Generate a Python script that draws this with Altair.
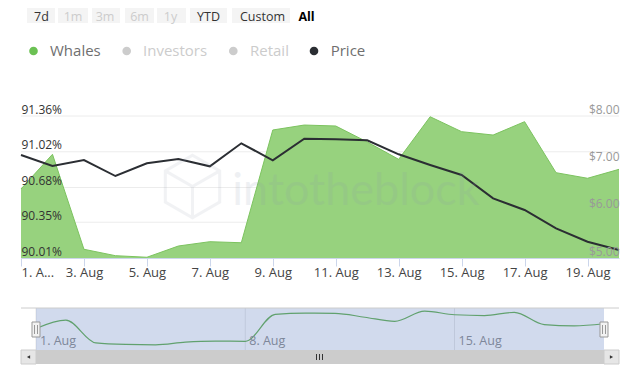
import altair as alt
import pandas as pd

# ---------------- data ----------------
days = list(range(1, 21))  # August 1 .. 20
whales = [90.666, 90.996, 90.093, 90.032, 90.017, 90.124, 90.165, 90.155, 91.227, 91.274,
          91.265, 91.113, 90.948, 91.353, 91.211, 91.179, 91.306, 90.821, 90.768, 90.853]
price = [7.176, 6.944, 7.070, 6.732, 7.001, 7.092, 6.937, 7.423, 7.064, 7.520,
         7.508, 7.487, 7.191, 6.965, 6.754, 6.261, 6.014, 5.627, 5.344, 5.169]
left_ticks = [90.01, 90.35, 90.68, 91.02, 91.36]
right_ticks = [5, 6, 7, 8]
x_ticks = [1, 3, 5, 7, 9, 11, 13, 15, 17, 19]
legend_labels = ["Whales", "Investors", "Retail", "Price"]
button_labels = ["7d", "1m", "3m", "6m", "1y", "YTD", "Custom", "All"]
nav_tick_days = [1, 8, 15]
nav_tick_labels = ["1. Aug", "8. Aug", "15. Aug"]

# ---------------- layout / style ----------------
W, H = 598, 142
FONT = "Open Sans"
GREEN = "#6bc153"
AREA_FILL = "#97d27e"
DARK = "#2b2e33"
Y_MIN, Y_MAX = 90.01, 91.36

legend_dot_x = [12.5, 105.7, 212.3, 293]
legend_text_x = [29, 122, 229, 309.7]
legend_dot_color = [GREEN, "#cccccc", "#cccccc", DARK]
legend_text_color = ["#6f6f6f", "#cccccc", "#cccccc", "#6f6f6f"]

button_cx = [20.5, 52, 84, 118.5, 149.5, 187.5, 241.5, 285.5]
button_x1 = [6, 37, 71, 104, 136, 169, 211, None]
button_x2 = [34, 67, 99, 133, 165, 206, 269, None]
button_color = ["#333333", "#cccccc", "#cccccc", "#cccccc", "#cccccc", "#333333", "#333333", "#000000"]
button_weight = ["normal"] * 7 + ["bold"]

one = pd.DataFrame({"k": [0]})
df = pd.DataFrame({"day": days, "whales": whales, "price": price})
base = alt.Chart(df)

x_main = alt.Scale(domain=[1, 20], nice=False, zero=False)
y_left = alt.Scale(domain=[Y_MIN, Y_MAX], nice=False, zero=False)
y_right = alt.Scale(domain=[5, 8], nice=False, zero=False)

layers = []

# gridlines
layers.append(
    alt.Chart(pd.DataFrame({"v": left_ticks})).mark_rule(color="#ececec", strokeWidth=1).encode(
        y=alt.Y("v:Q", scale=y_left, axis=None)
    )
)

# whales area
layers.append(
    base.transform_calculate(floor=str(Y_MIN)).mark_area(
        color=AREA_FILL, opacity=1, fillOpacity=1,
        line={"color": "#7cc35f", "strokeWidth": 1}).encode(
        x=alt.X("day:Q", scale=x_main, title=None,
                axis=alt.Axis(values=x_ticks,
                              labelExpr="datum.value == 1 ? '1. A...' : datum.value + '. Aug'",
                              grid=False, domainColor="#ccd6eb", tickColor="#ccd6eb", tickSize=8,
                              labelPadding=0, labelFont=FONT, labelFontSize=13, labelColor="#444444",
                              labelFlush=True, labelOverlap=False, zindex=1)),
        y=alt.Y("whales:Q", scale=y_left, title=None,
                axis=alt.Axis(values=left_ticks, labelExpr="format(datum.value, '.2f') + '%'",
                              orient="left", domain=False, ticks=False, tickSize=0, grid=False,
                              labelAlign="left", labelBaseline="bottom", labelPadding=0,
                              labelFont=FONT, labelFontSize=12, labelColor="#333333",
                              labelFlush=False, labelOverlap=False, labelBound=False, zindex=1)),
        y2=alt.Y2("floor:Q"),
    )
)

# price line
layers.append(
    base.mark_line(color=DARK, strokeWidth=2).encode(
        x=alt.X("day:Q", scale=x_main, axis=None),
        y=alt.Y("price:Q", scale=y_right, title=None,
                axis=alt.Axis(values=right_ticks, format="$.2f", orient="right", domain=False,
                              ticks=False, tickSize=0, grid=False, labelAlign="right",
                              labelBaseline="bottom", labelPadding=0, labelFont=FONT,
                              labelFontSize=12, labelColor="#999999", labelFlush=False,
                              labelOverlap=False, labelBound=False, zindex=1)),
    )
)

# watermark
layers.append(
    alt.Chart(one).mark_text(text="intotheblock", font="Lato", fontSize=45, align="center",
                             baseline="alphabetic", color="#8f99ad", opacity=0.14).encode(
        x=alt.value(335), y=alt.value(89)
    )
)
layers.append(
    alt.Chart(one).mark_point(
        shape="M0,-1L0.87,-0.5L0.87,0.5L0,1L-0.87,0.5L-0.87,-0.5Z M0,0L0.87,-0.5 M0,0L-0.87,-0.5 M0,0L0,1",
        size=3900, filled=False, color="#8f99ad", strokeWidth=3, opacity=0.12).encode(
        x=alt.value(171.5), y=alt.value(70.5)
    )
)

# legend
leg_df = pd.DataFrame({"label": legend_labels, "dx": legend_dot_x, "tx": legend_text_x,
                       "dc": legend_dot_color, "tc": legend_text_color})
layers.append(
    alt.Chart(leg_df).mark_circle(size=75, opacity=1).encode(
        x=alt.X("dx:Q", scale=None, axis=None), y=alt.value(-65),
        color=alt.Color("dc:N", scale=None)
    )
)
layers.append(
    alt.Chart(leg_df).mark_text(align="left", baseline="middle", font=FONT, fontSize=15).encode(
        x=alt.X("tx:Q", scale=None, axis=None), y=alt.value(-65),
        text="label:N", color=alt.Color("tc:N", scale=None)
    )
)

# range selector buttons
for x1, x2 in zip(button_x1, button_x2):
    if x1 is None:
        continue
    layers.append(
        alt.Chart(one).mark_rect(color="#f4f4f4").encode(
            x=alt.value(x1), x2=alt.value(x2), y=alt.value(-108), y2=alt.value(-93)
        )
    )
for lab, cx, col, wt in zip(button_labels, button_cx, button_color, button_weight):
    layers.append(
        alt.Chart(one).mark_text(text=lab, align="center", baseline="middle", font=FONT,
                                 fontSize=12.5, color=col, fontWeight=wt).encode(
            x=alt.value(cx), y=alt.value(-99)
        )
    )

# navigator
nav_x = alt.Scale(domain=[1, 20], range=[15, 583], nice=False, zero=False)
nav_y = alt.Scale(domain=[Y_MIN, Y_MAX], range=[229, 195], nice=False, zero=False)
nav_df = pd.DataFrame({"day": nav_tick_days, "label": nav_tick_labels})
layers.append(
    alt.Chart(nav_df).mark_rule(color="#e6e6e6").encode(
        x=alt.X("day:Q", scale=nav_x, axis=None), y=alt.value(192), y2=alt.value(234)
    )
)
layers.append(
    base.mark_line(color="#5fae4a", strokeWidth=1.2, interpolate="monotone").encode(
        x=alt.X("day:Q", scale=nav_x, axis=None),
        y=alt.Y("whales:Q", scale=nav_y, axis=None),
    )
)
layers.append(
    alt.Chart(nav_df).mark_text(align="left", baseline="middle", dx=4, font=FONT, fontSize=12.5,
                                color="#888888").encode(
        x=alt.X("day:Q", scale=nav_x, axis=None), y=alt.value(225), text="label:N"
    )
)
layers.append(
    alt.Chart(one).mark_rect(color="#6685c2", opacity=0.3).encode(
        x=alt.value(15), x2=alt.value(583), y=alt.value(192), y2=alt.value(234)
    )
)
layers.append(
    alt.Chart(one).mark_rule(color="#cccccc", strokeWidth=1).encode(
        x=alt.value(0), x2=alt.value(598), y=alt.value(192)
    )
)
for c in [15, 583]:
    layers.append(
        alt.Chart(one).mark_rect(fill="#f2f2f2", stroke="#999999", strokeWidth=1).encode(
            x=alt.value(c - 4), x2=alt.value(c + 4), y=alt.value(206), y2=alt.value(221)
        )
    )
    for g in [-1.5, 1.5]:
        layers.append(
            alt.Chart(one).mark_rule(color="#999999", strokeWidth=1).encode(
                x=alt.value(c + g), y=alt.value(209), y2=alt.value(218)
            )
        )

# scrollbar
layers.append(
    alt.Chart(one).mark_rect(color="#f2f2f2").encode(
        x=alt.value(0), x2=alt.value(598), y=alt.value(234), y2=alt.value(248)
    )
)
layers.append(
    alt.Chart(one).mark_rect(color="#cccccc").encode(
        x=alt.value(15), x2=alt.value(583), y=alt.value(234), y2=alt.value(248)
    )
)
for bx1, bx2 in [(0, 15), (583, 598)]:
    layers.append(
        alt.Chart(one).mark_rect(fill="#e6e6e6", stroke="#cccccc", strokeWidth=1).encode(
            x=alt.value(bx1), x2=alt.value(bx2), y=alt.value(234), y2=alt.value(248)
        )
    )
layers.append(
    alt.Chart(one).mark_point(shape="triangle-left", filled=True, size=14, color="#333333", opacity=1).encode(
        x=alt.value(7.5), y=alt.value(241)
    )
)
layers.append(
    alt.Chart(one).mark_point(shape="triangle-right", filled=True, size=14, color="#333333", opacity=1).encode(
        x=alt.value(590.5), y=alt.value(241)
    )
)
for rx in [295.5, 298.5, 301.5]:
    layers.append(
        alt.Chart(one).mark_rule(color="#333333", strokeWidth=1).encode(
            x=alt.value(rx), y=alt.value(238), y2=alt.value(244)
        )
    )

chart = (
    alt.layer(*layers)
    .resolve_scale(x="independent", y="independent")
    .properties(width=W, height=H,
                padding={"left": 13, "top": 108, "right": 13, "bottom": 109},
                autosize=alt.AutoSizeParams(type="none"),
                background="white")
    .configure_view(stroke=None)
)

chart.save("out.html", embed_options={"renderer": "svg", "actions": False})
